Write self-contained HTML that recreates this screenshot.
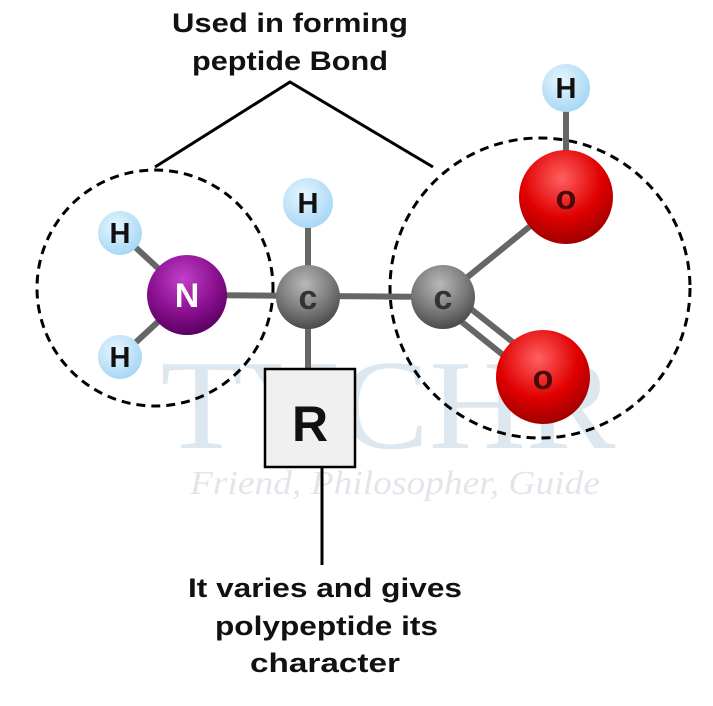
<!DOCTYPE html>
<html><head><style>
html,body{margin:0;padding:0;background:#fff;}
</style></head><body>
<svg width="713" height="701" viewBox="0 0 713 701" xmlns="http://www.w3.org/2000/svg">
<defs>
<radialGradient id="hg" cx="40%" cy="35%" r="65%"><stop offset="0" stop-color="#e8f6ff"/><stop offset="1" stop-color="#a8d8f5"/></radialGradient>
<radialGradient id="ng" cx="45%" cy="30%" r="70%"><stop offset="0" stop-color="#c040c8"/><stop offset="0.6" stop-color="#8a1090"/><stop offset="1" stop-color="#5a0060"/></radialGradient>
<radialGradient id="cg" cx="45%" cy="30%" r="70%"><stop offset="0" stop-color="#b8b8b8"/><stop offset="0.6" stop-color="#7a7a7a"/><stop offset="1" stop-color="#4a4a4a"/></radialGradient>
<radialGradient id="og" cx="45%" cy="30%" r="70%"><stop offset="0" stop-color="#ff6060"/><stop offset="0.6" stop-color="#e00000"/><stop offset="1" stop-color="#a00000"/></radialGradient>
</defs>
<text x="388" y="448" text-anchor="middle" font-family="Liberation Serif, serif" font-size="128" fill="#dde7ef" textLength="455" lengthAdjust="spacingAndGlyphs">TYCHR</text>
<text x="395" y="494" text-anchor="middle" font-family="Liberation Serif, serif" font-style="italic" font-size="34" fill="#e2e6ea" textLength="410" lengthAdjust="spacingAndGlyphs">Friend, Philosopher, Guide</text>
<g font-family="Liberation Sans, sans-serif" font-weight="bold" font-size="27" fill="#111">
<text x="172" y="32" textLength="236" lengthAdjust="spacingAndGlyphs">Used in forming</text>
<text x="192" y="70" textLength="196" lengthAdjust="spacingAndGlyphs">peptide Bond</text>
<text x="188" y="597" textLength="274" lengthAdjust="spacingAndGlyphs">It varies and gives</text>
<text x="215" y="635" textLength="223" lengthAdjust="spacingAndGlyphs">polypeptide its</text>
<text x="250" y="672" textLength="150" lengthAdjust="spacingAndGlyphs">character</text>
</g>
<polyline points="155,167 290,82 433,167" fill="none" stroke="#000" stroke-width="3"/>
<ellipse cx="155" cy="288" rx="118" ry="118" fill="none" stroke="#000" stroke-width="3" stroke-dasharray="9,6"/>
<circle cx="540" cy="288" r="150" fill="none" stroke="#000" stroke-width="3" stroke-dasharray="9,6"/>
<g stroke="#666" stroke-width="6">
<line x1="120" y1="233" x2="187" y2="295"/>
<line x1="120" y1="357" x2="187" y2="295"/>
<line x1="187" y1="295" x2="443" y2="297"/>
<line x1="308" y1="200" x2="308" y2="370"/>
<line x1="443" y1="297" x2="566" y2="197"/>
<line x1="566" y1="88" x2="566" y2="197"/>
<line x1="447" y1="290" x2="548" y2="370"/>
<line x1="437" y1="302" x2="538" y2="383"/>
</g>
<line x1="322" y1="467" x2="322" y2="565" stroke="#000" stroke-width="3"/>
<g font-family="Liberation Sans, sans-serif" font-weight="bold" text-anchor="middle">
<circle cx="120" cy="233" r="22" fill="url(#hg)"/><text x="120" y="243" font-size="29" fill="#111">H</text>
<circle cx="120" cy="357" r="22" fill="url(#hg)"/><text x="120" y="367" font-size="29" fill="#111">H</text>
<circle cx="308" cy="203" r="25" fill="url(#hg)"/><text x="308" y="213" font-size="29" fill="#111">H</text>
<circle cx="566" cy="88" r="24" fill="url(#hg)"/><text x="566" y="98" font-size="29" fill="#111">H</text>
<circle cx="187" cy="295" r="40" fill="url(#ng)"/><text x="187" y="307" font-size="34" fill="#fff">N</text>
<circle cx="308" cy="297" r="32" fill="url(#cg)"/><text x="308" y="309" font-size="34" fill="#333">c</text>
<circle cx="443" cy="297" r="32" fill="url(#cg)"/><text x="443" y="309" font-size="34" fill="#333">c</text>
<circle cx="566" cy="197" r="47" fill="url(#og)"/><text x="566" y="209" font-size="34" fill="#4a0a0a">o</text>
<circle cx="543" cy="377" r="47" fill="url(#og)"/><text x="543" y="389" font-size="34" fill="#4a0a0a">o</text>
</g>
<rect x="265" y="369" width="90" height="98" fill="#f0f0f0" stroke="#000" stroke-width="2.5"/>
<text x="310" y="441" text-anchor="middle" font-family="Liberation Sans, sans-serif" font-weight="bold" font-size="50" fill="#111">R</text>
</svg>
</body></html>
